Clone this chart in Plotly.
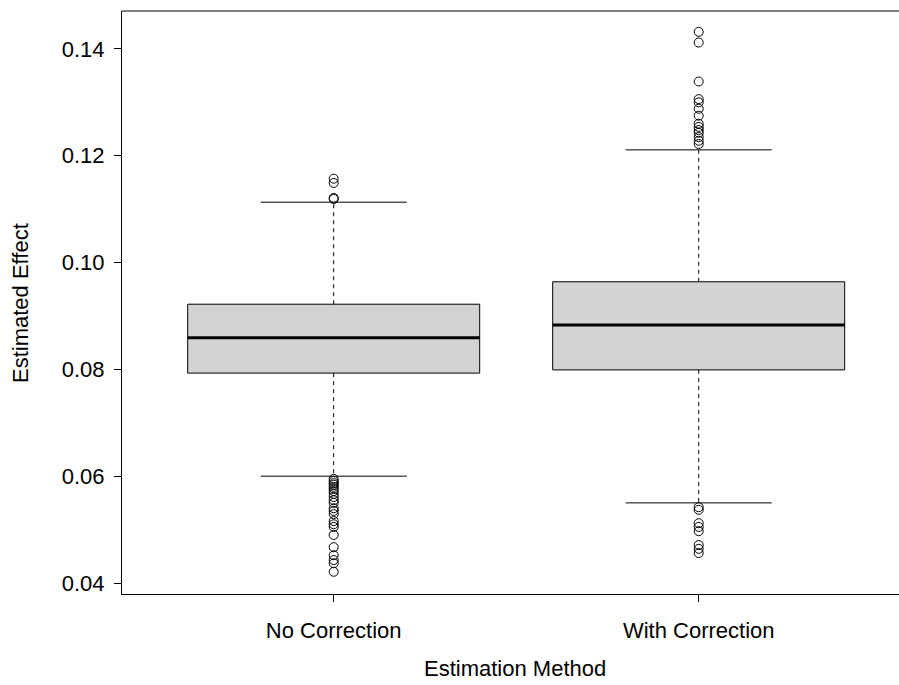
import plotly.graph_objects as go

categories = ["No Correction", "With Correction"]
q1 = [0.0793, 0.0799]
median = [0.0859, 0.0883]
q3 = [0.0922, 0.0964]
lower_whisker = [0.0600, 0.0550]
upper_whisker = [0.1113, 0.1211]
outliers_no_corr = [0.1157, 0.1149, 0.1121, 0.1119,
                    0.0595, 0.0591, 0.0587, 0.0584, 0.0580, 0.0576, 0.0572, 0.0567,
                    0.0561, 0.0555, 0.0550, 0.0540, 0.0535, 0.0529, 0.0516, 0.0510,
                    0.0505, 0.0490, 0.0467, 0.0452, 0.0443, 0.0437, 0.0421]
outliers_with_corr = [0.1432, 0.1412, 0.1339, 0.1306, 0.1300, 0.1288, 0.1275, 0.1260,
                      0.1254, 0.1248, 0.1243, 0.1235, 0.1228, 0.1222,
                      0.0542, 0.0537, 0.0512, 0.0505, 0.0497, 0.0471, 0.0464, 0.0456]
outliers = [outliers_no_corr, outliers_with_corr]
y_ticks = [0.04, 0.06, 0.08, 0.10, 0.12, 0.14]

FONT = "Liberation Sans, Arial, sans-serif"
fig = go.Figure()
half = 0.4
staple = 0.2
for i, name in enumerate(categories):
    x = i + 1
    # whiskers (dashed)
    fig.add_trace(go.Scatter(x=[x, x, None, x, x],
                             y=[q3[i], upper_whisker[i], None, q1[i], lower_whisker[i]],
                             mode="lines", line=dict(color="black", width=1, dash="4px,4px"),
                             hoverinfo="skip", showlegend=False))
    # staples
    fig.add_trace(go.Scatter(x=[x - staple, x + staple, None, x - staple, x + staple],
                             y=[upper_whisker[i], upper_whisker[i], None, lower_whisker[i], lower_whisker[i]],
                             mode="lines", line=dict(color="black", width=1),
                             hoverinfo="skip", showlegend=False))
    # box
    fig.add_trace(go.Scatter(x=[x - half, x + half, x + half, x - half, x - half],
                             y=[q1[i], q1[i], q3[i], q3[i], q1[i]],
                             mode="lines", fill="toself", fillcolor="#D3D3D3",
                             line=dict(color="black", width=1),
                             name=name, showlegend=False))
    # median
    fig.add_trace(go.Scatter(x=[x - half, x + half], y=[median[i], median[i]],
                             mode="lines", line=dict(color="black", width=3),
                             hoverinfo="skip", showlegend=False))
    # outliers
    fig.add_trace(go.Scatter(x=[x] * len(outliers[i]), y=outliers[i], mode="markers",
                             marker=dict(symbol="circle-open", size=9,
                                         color="black", line=dict(width=1)),
                             showlegend=False))

fig.update_layout(
    width=899, height=685,
    margin=dict(l=122, r=0, t=11, b=91),
    paper_bgcolor="white", plot_bgcolor="white",
    font=dict(family=FONT, size=22, color="black"),
    xaxis=dict(range=[0.42, 0.42 + 777 / 365], tickvals=[1, 2], ticktext=categories,
               showgrid=False, zeroline=False, showline=True, linecolor="black",
               linewidth=1, ticks="outside", ticklen=7, tickcolor="black",
               ticklabelstandoff=10, tickfont=dict(size=22)),
    yaxis=dict(range=[0.03794, 0.1471], tickvals=y_ticks,
               ticktext=[f"{v:.2f}" for v in y_ticks],
               showgrid=False, zeroline=False, showline=True, linecolor="black",
               linewidth=1, ticks="outside", ticklen=7, tickcolor="black",
               ticklabelstandoff=5, tickfont=dict(size=22)),
    shapes=[dict(type="line", xref="paper", yref="paper", x0=0, x1=1, y0=1, y1=1,
                 line=dict(color="black", width=1))],
    annotations=[
        dict(text="Estimation Method", xref="paper", yref="paper", x=(515 - 122) / 777,
             y=-(668 - 594) / 583, showarrow=False, xanchor="center", yanchor="middle",
             font=dict(size=22)),
        dict(text="Estimated Effect", xref="paper", yref="paper", x=-(122 - 20) / 777,
             y=(594 - 303) / 583, showarrow=False, xanchor="center", yanchor="middle",
             textangle=-90, font=dict(size=22)),
    ],
)
fig.write_html("out.html")
